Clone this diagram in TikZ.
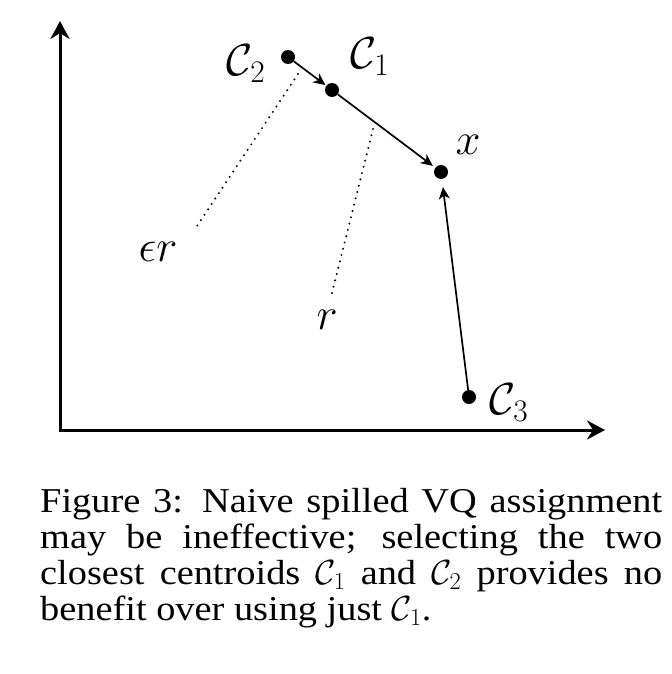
\RequirePackage{fix-cm}
\documentclass[tikz,border=0pt]{standalone}
\usepackage{fontspec}
\setmainfont{Liberation Serif}
\newfontfamily\capfont[FakeStretch=1.1]{Liberation Serif}
\usetikzlibrary{arrows.meta}
\begin{document}
\begin{tikzpicture}[x=1bp,y=-1bp,
  dot/.style={circle,fill=black,inner sep=0pt,minimum size=14bp},
  lbl/.style={inner sep=0pt,font=\fontsize{45}{54}\selectfont},
  arr/.style={line width=1.7bp,-{Stealth[length=12bp,width=11bp,inset=3.5bp]},shorten >=1bp},
  axis/.style={line width=3bp,-{Stealth[length=18bp,width=19bp,inset=6bp]}},
  dotline/.style={line width=2.2bp,line cap=round,dash pattern=on 0bp off 6.5bp}]
\useasboundingbox (0,0) rectangle (672,674);
% axes
\coordinate (o) at (60,430);
\coordinate (ytop) at (60,21);
\coordinate (xend) at (605,430);
\draw[axis] ([yshift=-1.5bp]o) -- (ytop);
\draw[axis] ([xshift=-1.5bp]o) -- (xend);
% points
\node[dot] (c2) at (288,57) {};
\node[dot] (c1) at (332,90) {};
\node[dot] (x) at (441,172) {};
\node[dot] (c3) at (469,397) {};
% labels
\node[lbl] (lc2) at (246,64) {$\mathcal{C}_2$};
\node[lbl] (lc1) at (370,57) {$\mathcal{C}_1$};
\node[lbl] (lx) at (468,145) {$x$};
\node[lbl] (lc3) at (509,403) {$\mathcal{C}_3$};
\node[lbl] (ler) at (158,252) {$\epsilon r$};
\node[lbl] (lr) at (327,320) {$r$};
% arrows
\draw[arr] (c2) -- (c1);
\draw[arr,shorten >=3bp] (c1) -- (x);
\draw[arr,shorten >=8bp] (c3) -- (x);
% dotted
\coordinate (d1a) at (298,74);
\coordinate (d1b) at (197,226);
\coordinate (d2a) at (373,129);
\coordinate (d2b) at (332,293);
\draw[dotline] (d1a) -- (d1b);
\draw[dotline] (d2a) -- (d2b);
% caption
\node[anchor=north west,inner sep=0pt,text width=622bp,align=justify,
  font=\capfont\fontsize{35}{36}\selectfont] (cap) at (40,488.5)
  {Figure 3: Naive spilled VQ assignment\linebreak
   may be ineffective; selecting the two\linebreak
   closest centroids $\mathcal{C}_1$ and $\mathcal{C}_2$ provides no\linebreak
   benefit over using just $\mathcal{C}_1$.};
\end{tikzpicture}
\end{document}
